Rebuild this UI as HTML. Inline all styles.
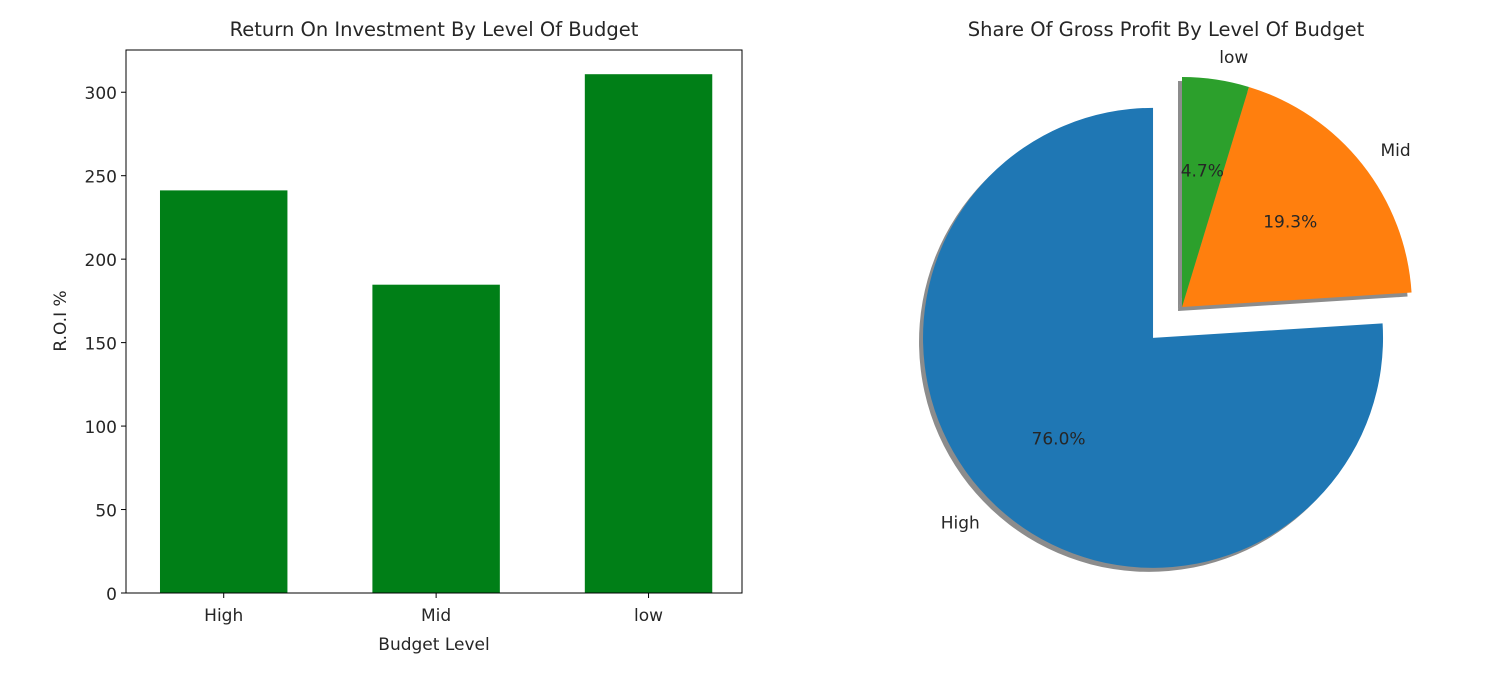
<!DOCTYPE html>
<html><head><meta charset="utf-8"><style>
body{margin:0;background:#fff;width:1500px;height:688px;overflow:hidden}
svg text{font-family:"DejaVu Sans","Liberation Sans",sans-serif;fill:#262626}
</style></head><body>
<svg id="chart" width="1500" height="688" xmlns="http://www.w3.org/2000/svg"></svg>
<script>
const categories = ["High","Mid","low"];
const roiValues = [241.2, 184.7, 310.8];
const yTicks = [0,50,100,150,200,250,300];
const pieLabels = ["High","Mid","low"];
const pieShares = [76.0, 19.3, 4.7];
const pieExplode = [0.2, 0, 0];
const pieColors = ["#1f77b4","#ff7f0e","#2ca02c"];

const svg = document.getElementById('chart');
const NS = 'http://www.w3.org/2000/svg';
function mk(tag, attrs, parent){const e=document.createElementNS(NS,tag);for(const k in attrs)e.setAttribute(k,attrs[k]);(parent||svg).appendChild(e);return e;}

// Bar chart
const ax = {l:126,r:742,t:50,b:593};
const xMin=-0.46, xMax=2.44, yMin=0, yMax=325.3;
const xs = v => ax.l + (v-xMin)/(xMax-xMin)*(ax.r-ax.l);
const ys = v => ax.b - (v-yMin)/(yMax-yMin)*(ax.b-ax.t);
const barG = mk('g',{});


categories.forEach((c,i)=>{
  const b = mk('rect',{x:xs(i-0.3),y:ys(roiValues[i]),width:xs(i+0.3)-xs(i-0.3),height:ys(0)-ys(roiValues[i]),fill:'#007f17'},barG);
  
  
  mk('line',{x1:xs(i),x2:xs(i),y1:ax.b,y2:ax.b+5,stroke:'#000','stroke-width':1},barG);
  const t = mk('text',{x:xs(i),y:ax.b+28,'text-anchor':'middle','font-size':17},barG);
  t.textContent=c;
  
  
});
yTicks.forEach(v=>{
  mk('line',{x1:ax.l-5,x2:ax.l,y1:ys(v),y2:ys(v),stroke:'#000','stroke-width':1},barG);
  const t = mk('text',{x:ax.l-9,y:ys(v)+7,'text-anchor':'end','font-size':17},barG);
  t.textContent=v;
  
  
});
const frame = mk('rect',{x:ax.l,y:ax.t,width:ax.r-ax.l,height:ax.b-ax.t,fill:'none',stroke:'#000','stroke-width':1},barG);


let t1 = mk('text',{x:(ax.l+ax.r)/2,y:36,'text-anchor':'middle','font-size':19.5});
t1.textContent='Return On Investment By Level Of Budget';


let xl = mk('text',{x:(ax.l+ax.r)/2,y:650,'text-anchor':'middle','font-size':17});
xl.textContent='Budget Level';


let yl = mk('text',{x:0,y:0,'text-anchor':'middle','font-size':17,transform:'translate(66,321) rotate(-90)'});
yl.textContent='R.O.I %';



// Pie chart
const cx=1182, cy=307, R=230;
const pieG = mk('g',{});


const total = pieShares.reduce((a,b)=>a+b,0);
let ang = 90;
const wedges=[];
pieShares.forEach((s,i)=>{
  const a0=ang, a1=ang+s/total*360; ang=a1;
  const mid=(a0+a1)/2*Math.PI/180;
  const ox=cx+pieExplode[i]*R*Math.cos(mid)*0.92, oy=cy-pieExplode[i]*R*Math.sin(mid)*0.92;
  wedges.push({a0,a1,mid,ox,oy,i});
});
function wedgePath(w,dx,dy){
  const r0=w.a0*Math.PI/180, r1=w.a1*Math.PI/180;
  const x0=w.ox+dx+R*Math.cos(r0), y0=w.oy+dy-R*Math.sin(r0);
  const x1=w.ox+dx+R*Math.cos(r1), y1=w.oy+dy-R*Math.sin(r1);
  const large=(w.a1-w.a0)>180?1:0;
  return `M${w.ox+dx},${w.oy+dy} L${x0},${y0} A${R},${R} 0 ${large} 0 ${x1},${y1} Z`;
}
wedges.forEach(w=>{
  const sh = mk('path',{d:wedgePath(w,-4,4),fill:'#000','fill-opacity':0.45},pieG);
  
  
});
wedges.forEach(w=>{
  const p = mk('path',{d:wedgePath(w,0,0),fill:pieColors[w.i]},pieG);
  
  
  const lx=w.ox+1.1*R*Math.cos(w.mid), ly=w.oy-1.1*R*Math.sin(w.mid);
  const lt = mk('text',{x:lx,y:ly+6,'text-anchor':Math.cos(w.mid)>0?'start':'end','font-size':17},pieG);
  lt.textContent=pieLabels[w.i];
  
  
  const px=w.ox+0.6*R*Math.cos(w.mid), py=w.oy-0.6*R*Math.sin(w.mid);
  const pt = mk('text',{x:px,y:py+6,'text-anchor':'middle','font-size':17},pieG);
  pt.textContent=pieShares[w.i].toFixed(1)+'%';
  
  
});
let t2 = mk('text',{x:1166,y:36,'text-anchor':'middle','font-size':19.5});
t2.textContent='Share Of Gross Profit By Level Of Budget';


</script>
</body></html>
